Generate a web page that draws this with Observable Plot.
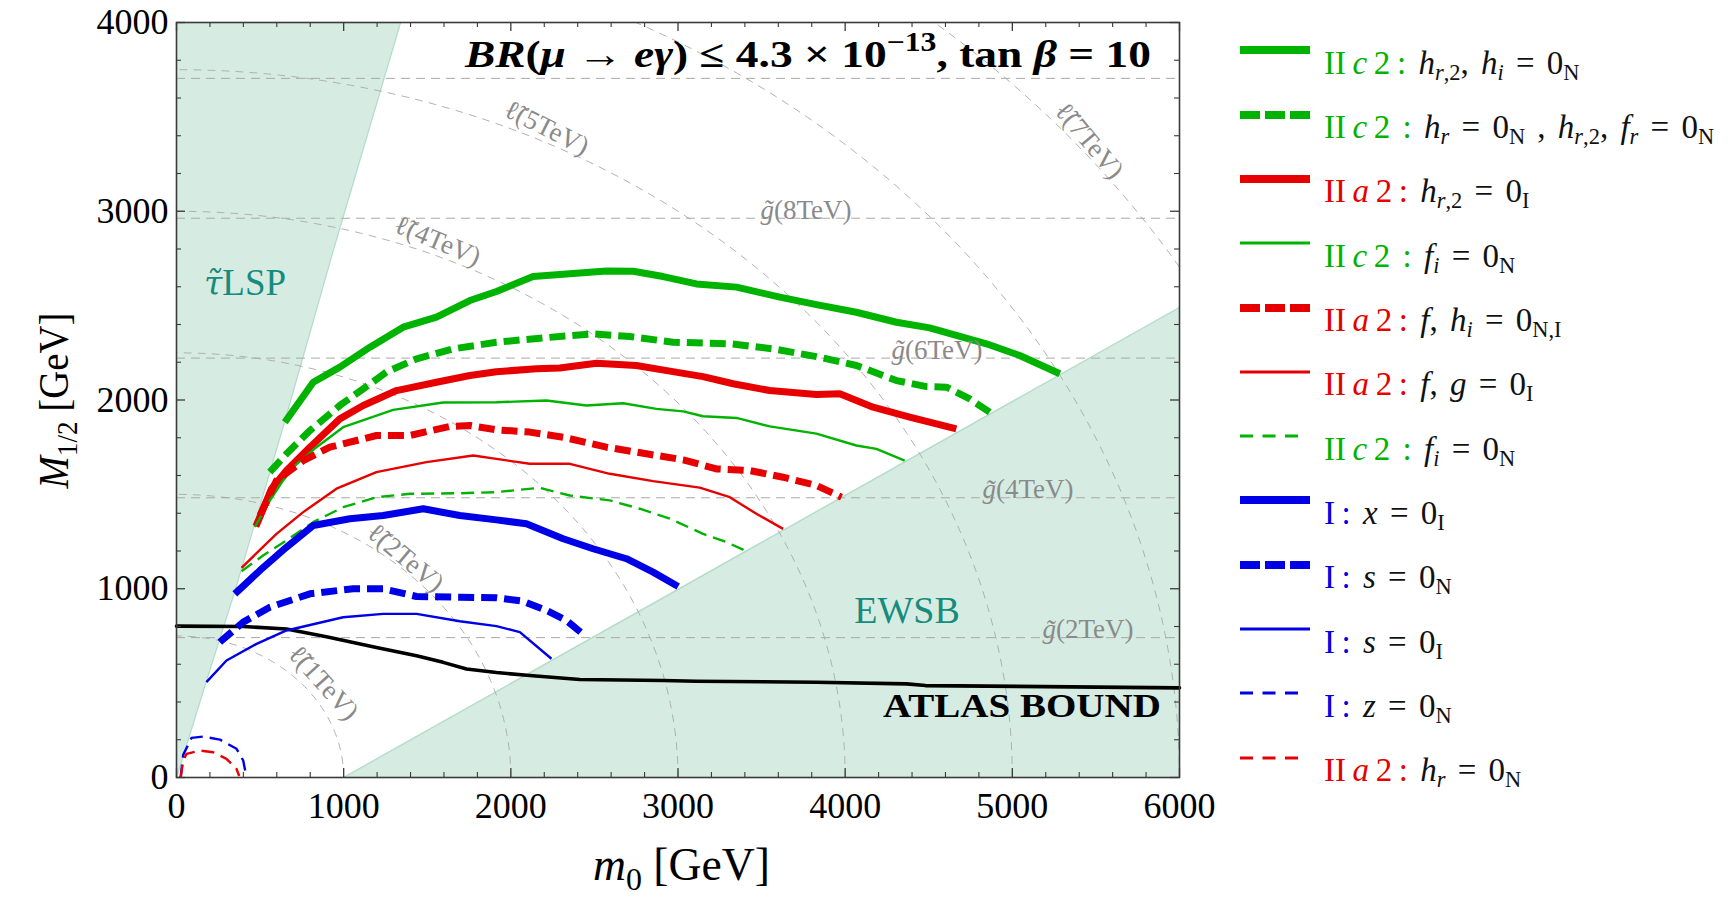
<!DOCTYPE html>
<html>
<head>
<meta charset="utf-8">
<script src="https://cdn.jsdelivr.net/npm/d3@7"></script>
<script src="https://cdn.jsdelivr.net/npm/@observablehq/plot@0.6"></script>
<style>
  html, body { margin: 0; padding: 0; background: #fff; }
  #wrap { position: relative; width: 1728px; height: 905px; overflow: hidden;
          font-family: "Liberation Serif", "DejaVu Serif", serif; }
  #wrap svg { position: absolute; left: 0; top: 0; }
  .row { position: absolute; left: 1240px; height: 40px; display: flex; align-items: center;
         white-space: nowrap; font-size: 33px; line-height: 1; word-spacing: 4px; color: #111; }
  .row svg { position: static; flex: none; }
  .row .txt { position: absolute; left: 84px; }
  .row sub { font-size: 0.68em; vertical-align: -0.28em; line-height: 0; font-style: normal; }
</style>
</head>
<body>
<div id="wrap"></div>
<script>
// ---------------- data (GeV) ----------------
const xTicks = [0, 1000, 2000, 3000, 4000, 5000, 6000];
const yTicks = [0, 1000, 2000, 3000, 4000];

// edges of the excluded regions [m0, M1/2]
const stauLspEdge = [[0, 0], [180, 515], [350, 990], [650, 1895], [940, 2800], [1340, 4000]];
const ewsbEdge = [[1000, 0], [6000, 2490]];

// ATLAS lower bound
const atlasBound = [[0, 802], [399, 800], [658, 787], [897, 746], [1196, 689], [1436, 645], [1595, 610],
  [1735, 575], [1914, 556], [2113, 540], [2412, 519], [2911, 514], [3110, 510], [3828, 505],
  [4367, 496], [4481, 487], [6000, 475]];

// gluino mass contours (TeV) and the M1/2 value they sit at
const gluinoMasses = [2, 4, 6, 8, 10];
const gluinoLevels = [741, 1482, 2222, 2963, 3704];
// slepton mass contours (TeV): m0^2 + (M1/2 / 0.75)^2 = m^2
const sleptonMasses = [1, 2, 3, 4, 5, 6, 7];
const sleptonRatio = 0.75;

// BR(mu -> e gamma) boundaries, [m0, M1/2]
const IIc2_hr2_hi = [[648, 1882], [818, 2094], [977, 2174], [1157, 2280], [1356, 2386], [1555, 2439],
  [1755, 2527], [1914, 2575], [2133, 2654], [2572, 2683], [2732, 2682], [2911, 2654], [3110, 2615],
  [3350, 2598], [3609, 2545], [3828, 2505], [4067, 2465], [4307, 2412], [4506, 2382], [4665, 2342],
  [4845, 2298], [5044, 2236], [5284, 2139]];
const IIc2_hr_hr2_fr = [[558, 1618], [658, 1715], [798, 1838], [977, 1971], [1117, 2059], [1256, 2148],
  [1436, 2218], [1655, 2271], [1914, 2306], [2193, 2329], [2492, 2351], [2712, 2336], [2971, 2306],
  [3310, 2298], [3569, 2271], [3828, 2230], [4067, 2183], [4307, 2103], [4486, 2071], [4606, 2068],
  [4745, 2006], [4865, 1935]];
const IIa2_hr2 = [[475, 1330], [568, 1529], [658, 1626], [798, 1750], [977, 1900], [1117, 1971],
  [1316, 2050], [1555, 2094], [1755, 2130], [1914, 2150], [2153, 2165], [2293, 2170], [2512, 2195],
  [2751, 2183], [2951, 2153], [3150, 2124], [3330, 2086], [3549, 2050], [3828, 2029], [3968, 2033],
  [4167, 1962], [4386, 1909], [4665, 1847]];
const IIc2_fi = [[469, 1327], [560, 1470], [638, 1574], [698, 1644], [837, 1750], [997, 1856],
  [1296, 1948], [1595, 1987], [1914, 1988], [2213, 1997], [2452, 1971], [2672, 1983], [2871, 1953],
  [3031, 1940], [3150, 1914], [3350, 1905], [3549, 1860], [3828, 1822], [4067, 1759], [4187, 1741],
  [4356, 1679]];
const IIa2_f_hi = [[500, 1390], [598, 1573], [758, 1679], [917, 1750], [1196, 1812], [1396, 1812],
  [1635, 1860], [1755, 1865], [1914, 1842], [2113, 1830], [2313, 1803], [2572, 1750], [2811, 1715],
  [3031, 1683], [3230, 1635], [3430, 1626], [3629, 1591], [3828, 1547], [3978, 1485]];
const IIa2_f_g = [[389, 1111], [598, 1291], [758, 1406], [957, 1530], [1196, 1618], [1495, 1671],
  [1775, 1706], [1914, 1688], [2113, 1662], [2353, 1662], [2592, 1609], [2851, 1570], [3130, 1536],
  [3310, 1485], [3469, 1397], [3629, 1317]];
const IIc2_fi_dash = [[389, 1093], [518, 1176], [658, 1256], [818, 1353], [997, 1432], [1196, 1485],
  [1396, 1503], [1695, 1506], [1914, 1512], [2173, 1535], [2353, 1494], [2592, 1468], [2771, 1424],
  [2951, 1371], [3150, 1291], [3290, 1247], [3400, 1203]];
const I_x = [[349, 973], [499, 1097], [658, 1220], [818, 1335], [1037, 1371], [1236, 1388], [1476, 1424],
  [1695, 1388], [1914, 1365], [2093, 1344], [2313, 1265], [2492, 1212], [2692, 1159], [2851, 1088],
  [3001, 1012]];
const I_sN = [[259, 717], [399, 823], [558, 902], [798, 973], [1057, 1000], [1236, 1000], [1436, 959],
  [1695, 955], [1914, 952], [2073, 934], [2213, 885], [2333, 832], [2442, 752]];
const I_sI = [[179, 505], [299, 620], [479, 708], [658, 779], [997, 849], [1236, 867], [1436, 867],
  [1695, 828], [1914, 802], [2054, 770], [2243, 629]];
const I_z = [[25, 0], [40, 120], [90, 210], [160, 217], [259, 201], [359, 152], [399, 90], [419, 0]];
const IIa2_hr = [[25, 0], [40, 90], [60, 125], [140, 143], [219, 134], [299, 99], [359, 46], [375, 8]];

// ---------------- styling ----------------
const GREEN = "#00b300", RED = "#e60000", BLUE = "#0000e6";
const SHADE = "#d6ece3", EDGE = "#b4dccd", TEAL = "#178c7c", GRID = "#a9a9a9", AXIS = "#3a3a3a";
const THICK = 7, THIN = 2.4;

const series = [
  {data: IIc2_hr2_hi, color: GREEN, thick: true, dashed: false,
   pre: "II&thinsp;<i>c</i>&thinsp;2&thinsp;:", body: "<i>h</i><sub><i>r</i>,2</sub>, <i>h</i><sub><i>i</i></sub> = 0<sub>N</sub>"},
  {data: IIc2_hr_hr2_fr, color: GREEN, thick: true, dashed: true,
   pre: "II&thinsp;<i>c</i>&thinsp;2 :", body: "<i>h</i><sub><i>r</i></sub> = 0<sub>N</sub> , <i>h</i><sub><i>r</i>,2</sub>, <i>f</i><sub><i>r</i></sub> = 0<sub>N</sub>"},
  {data: IIa2_hr2, color: RED, thick: true, dashed: false,
   pre: "II&thinsp;<i>a</i>&thinsp;2&thinsp;:", body: "<i>h</i><sub><i>r</i>,2</sub> = 0<sub>I</sub>"},
  {data: IIc2_fi, color: GREEN, thick: false, dashed: false,
   pre: "II&thinsp;<i>c</i>&thinsp;2 :", body: "<i>f</i><sub><i>i</i></sub> = 0<sub>N</sub>"},
  {data: IIa2_f_hi, color: RED, thick: true, dashed: true,
   pre: "II&thinsp;<i>a</i>&thinsp;2&thinsp;:", body: "<i>f</i>, <i>h</i><sub><i>i</i></sub> = 0<sub>N,I</sub>"},
  {data: IIa2_f_g, color: RED, thick: false, dashed: false,
   pre: "II&thinsp;<i>a</i>&thinsp;2&thinsp;:", body: "<i>f</i>, <i>g</i> = 0<sub>I</sub>"},
  {data: IIc2_fi_dash, color: GREEN, thick: false, dashed: true,
   pre: "II&thinsp;<i>c</i>&thinsp;2 :", body: "<i>f</i><sub><i>i</i></sub> = 0<sub>N</sub>"},
  {data: I_x, color: BLUE, thick: true, dashed: false,
   pre: "I&thinsp;:", body: "<i>x</i> = 0<sub>I</sub>"},
  {data: I_sN, color: BLUE, thick: true, dashed: true,
   pre: "I&thinsp;:", body: "<i>s</i> = 0<sub>N</sub>"},
  {data: I_sI, color: BLUE, thick: false, dashed: false,
   pre: "I&thinsp;:", body: "<i>s</i> = 0<sub>I</sub>"},
  {data: I_z, color: BLUE, thick: false, dashed: true,
   pre: "I&thinsp;:", body: "<i>z</i> = 0<sub>N</sub>"},
  {data: IIa2_hr, color: RED, thick: false, dashed: true,
   pre: "II&thinsp;<i>a</i>&thinsp;2&thinsp;:", body: "<i>h</i><sub><i>r</i></sub> = 0<sub>N</sub>"}
];

// ---------------- layout ----------------
const W = 1728, H = 905;
const margin = {left: 176, right: 549, top: 22, bottom: 128};
const fw = W - margin.left - margin.right;
const fh = H - margin.top - margin.bottom;

// slepton iso-mass contours as [m0, M1/2, mass]
const sleptonArcs = sleptonMasses.flatMap(m =>
  d3.range(0, 91).map(a => {
    const t = a * Math.PI / 180;
    return [m * 1000 * Math.cos(t), sleptonRatio * m * 1000 * Math.sin(t), m];
  }));

const minorX = d3.range(0, 6001, 200).filter(v => v % 1000);
const minorY = d3.range(0, 4001, 200).filter(v => v % 1000);
const px = d => d[0], py = d => d[1];

const curveMarks = series.map(s => Plot.line(s.data, {
  x: px, y: py, stroke: s.color,
  strokeWidth: s.thick ? THICK : THIN,
  strokeDasharray: s.dashed ? (s.thick ? "16,7" : "13,7") : null,
  strokeLinejoin: "round", strokeLinecap: "butt"
}));

const plot = Plot.plot({
  width: W, height: H,
  marginLeft: margin.left, marginRight: margin.right, marginTop: margin.top, marginBottom: margin.bottom,
  x: {domain: [0, 6000]},
  y: {domain: [0, 4000]},
  style: {fontFamily: '"Liberation Serif", serif', fontSize: "36px", background: "transparent", color: "#000", overflow: "visible"},
  marks: [
    // excluded regions
    Plot.areaX(stauLspEdge, {y: py, x1: 0, x2: px, fill: SHADE}),
    Plot.line(stauLspEdge, {x: px, y: py, stroke: EDGE, strokeWidth: 1.4}),
    Plot.areaY(ewsbEdge, {x: px, y1: 0, y2: py, fill: SHADE}),
    Plot.line(ewsbEdge, {x: px, y: py, stroke: EDGE, strokeWidth: 1.4}),
    // gluino and slepton mass contours
    Plot.ruleY(gluinoLevels, {y: d => d, stroke: GRID, strokeWidth: 1, strokeDasharray: "9,6"}),
    Plot.line(sleptonArcs, {x: px, y: py, z: d => d[2], stroke: GRID, strokeWidth: 0.9, strokeDasharray: "7,7", clip: true}),
    // ATLAS bound
    Plot.line(atlasBound, {x: px, y: py, stroke: "#000", strokeWidth: 3.6}),
    ...curveMarks,
    // inward ticks on all four sides
    Plot.tickX(xTicks, {x: d => d, insetTop: fh - 9, stroke: AXIS, strokeWidth: 1.3}),
    Plot.tickX(xTicks, {x: d => d, insetBottom: fh - 9, stroke: AXIS, strokeWidth: 1.3}),
    Plot.tickX(minorX, {x: d => d, insetTop: fh - 5, stroke: AXIS, strokeWidth: 1.1}),
    Plot.tickX(minorX, {x: d => d, insetBottom: fh - 5, stroke: AXIS, strokeWidth: 1.1}),
    Plot.tickY(yTicks, {y: d => d, insetRight: fw - 9, stroke: AXIS, strokeWidth: 1.3}),
    Plot.tickY(yTicks, {y: d => d, insetLeft: fw - 9, stroke: AXIS, strokeWidth: 1.3}),
    Plot.tickY(minorY, {y: d => d, insetRight: fw - 5, stroke: AXIS, strokeWidth: 1.1}),
    Plot.tickY(minorY, {y: d => d, insetLeft: fw - 5, stroke: AXIS, strokeWidth: 1.1}),
    Plot.axisX({ticks: xTicks, tickSize: 0, tickPadding: 15, tickFormat: d => String(d), label: null, fontSize: 36}),
    Plot.axisY({ticks: yTicks, tickSize: 0, tickPadding: 8, tickFormat: d => String(d), label: null, fontSize: 36}),
    Plot.frame({stroke: AXIS, strokeWidth: 1.6})
  ]
});

document.getElementById("wrap").appendChild(plot);

// ---------------- rich text labels ----------------
const sx = plot.scale("x"), sy = plot.scale("y");
const X = v => sx.apply(v), Y = v => sy.apply(v);
const svg = d3.select(plot);
const g = svg.append("g").attr("class", "annotations").attr("text-anchor", "start");

function richText(parent, parts, attrs) {
  const t = parent.append("text");
  for (const [k, v] of Object.entries(attrs)) t.attr(k, v);
  for (const [str, code, extra] of parts) {
    const tok = (code || "").split(" ");
    const s = t.append("tspan").text(str);
    if (tok.includes("i")) s.attr("font-style", "italic");
    if (tok.includes("b")) s.attr("font-weight", "bold");
    if (tok.includes("sub")) s.attr("font-size", "0.7em").attr("baseline-shift", "-0.32em");
    if (tok.includes("sup")) s.attr("font-size", "0.7em").attr("baseline-shift", "0.62em");
    if (extra) for (const [k, v] of Object.entries(extra)) s.attr(k, v);
  }
  return t;
}

// headline
richText(g, [
  ["BR", "i b"], ["(", "b"], ["μ", "i b"], [" \u2192 ", "b"], ["eγ", "i b"], [")", "b"],
  [" \u2264 ", "b"], ["4.3 × 10", "b"], ["−13", "b sup"], [", tan ", "b"], ["β", "i b"], [" = 10", "b"]
], {x: X(5832), y: Y(3762), "text-anchor": "end", "font-size": 38, fill: "#000",
    textLength: 686, lengthAdjust: "spacingAndGlyphs"});

// axis titles
richText(g, [["m", "i"], ["0", "sub"], [" [GeV]", ""]],
  {x: (X(0) + X(6000)) / 2 + 4, y: margin.top + fh + 103, "text-anchor": "middle", "font-size": 46, fill: "#000",
   textLength: 177, lengthAdjust: "spacingAndGlyphs"});
richText(g, [["M", "i"], ["1/2", "sub"], [" [GeV]", ""]],
  {transform: `translate(${margin.left - 108},${(Y(0) + Y(4000)) / 2 + 1}) rotate(-90)`,
   "text-anchor": "middle", "font-size": 42, fill: "#000", textLength: 176, lengthAdjust: "spacingAndGlyphs"});

// gluino contour labels (sit on their contour)
const gluinoLabelX = [5456, 5097, 4552, 3769];
gluinoMasses.slice(0, 4).forEach((m, i) => {
  richText(g, [["g\u0303", "i"], [`(${m}TeV)`, ""]],
    {x: X(gluinoLabelX[i]), y: Y(gluinoLevels[i]) + 1, "text-anchor": "middle", "font-size": 27, fill: "#8a8a8a"});
});

// slepton contour labels, rotated along the arcs
const sleptonLabels = [
  {m: 1, at: [885, 503], rot: 48},
  {m: 2, at: [1376, 1166], rot: 40},
  {m: 4, at: [1567, 2845], rot: 22.6},
  {m: 5, at: [2219, 3444], rot: 26.6},
  {m: 7, at: [5467, 3375], rot: 50}
];
sleptonLabels.forEach(l => {
  richText(g, [["\u2113\u0303", ""], [`(${l.m}TeV)`, ""]],
    {transform: `translate(${X(l.at[0])},${Y(l.at[1])}) rotate(${l.rot})`, dy: "0.35em",
     "text-anchor": "middle", "font-size": 27, fill: "#8a8a8a"});
});

// region names
richText(g, [["τ\u0303", "i", {"font-family": '"DejaVu Serif", serif', "font-size": "0.9em"}], ["LSP", ""]],
  {x: X(167), y: Y(2554), "text-anchor": "start", "font-size": 37, fill: TEAL});
richText(g, [["EWSB", ""]],
  {x: X(4373), y: Y(816), "text-anchor": "middle", "font-size": 38, fill: TEAL});
richText(g, [["ATLAS BOUND", "b"]],
  {x: X(5892), y: Y(318), "text-anchor": "end", "font-size": 33, fill: "#000",
   textLength: 278, lengthAdjust: "spacingAndGlyphs"});

// ---------------- legend ----------------
const wrap = d3.select("#wrap");
series.forEach((s, i) => {
  const row = wrap.append("div").attr("class", "row").style("top", `${63.3 + 64.3 * i - 20}px`);
  const len = s.dashed && !s.thick ? 58 : 70;
  const sw = row.append("svg").attr("width", 72).attr("height", 14);
  sw.append("line").attr("x1", 0).attr("x2", len).attr("y1", 7).attr("y2", 7)
    .attr("stroke", s.color).attr("stroke-width", s.thick ? 8 : 3)
    .attr("stroke-dasharray", s.dashed ? (s.thick ? "20,5" : "13,9.5") : null);
  row.append("span").attr("class", "txt")
    .html(`<span style="color:${s.color}">${s.pre}</span> ${s.body}`);
});
</script>
</body>
</html>
